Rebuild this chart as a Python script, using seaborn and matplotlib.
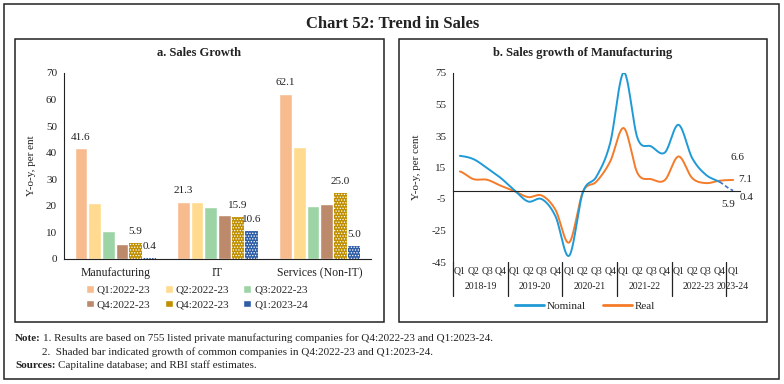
"""Chart 52: Trend in Sales — grouped bars (sales growth) + smoothed lines (manufacturing)."""
import matplotlib

matplotlib.use("Agg")
import matplotlib.pyplot as plt
import matplotlib.transforms as mtransforms
import numpy as np
import pandas as pd
import seaborn as sns
from matplotlib.lines import Line2D
from matplotlib.patches import Patch, Rectangle

# ── panel a: sales growth by sector ─────────────────────────────────────────
SECTORS = ["Manufacturing", "IT", "Services (Non-IT)"]
SERIES = ["Q1:2022-23", "Q2:2022-23", "Q3:2022-23", "Q4:2022-23",
          "Q4:2022-23 common", "Q1:2023-24 common"]
LEGEND_LABELS = ["Q1:2022-23", "Q2:2022-23", "Q3:2022-23",
                 "Q4:2022-23", "Q4:2022-23", "Q1:2023-24"]
Q1_2223 = [41.6, 21.3, 62.1]
Q2_2223 = [21.0, 21.5, 42.0]
Q3_2223 = [10.6, 19.7, 20.1]
Q4_2223 = [5.6, 16.4, 20.8]
Q4_2223_COMMON = [5.9, 15.9, 25.0]
Q1_2324_COMMON = [0.4, 10.6, 5.0]
LABELLED = [0, 4, 5]  # series that carry value labels

# ── panel b: manufacturing sales growth, quarterly ──────────────────────────
QUARTERS = ["Q1", "Q2", "Q3", "Q4"] * 5 + ["Q1"]
YEARS = ["2018-19", "2019-20", "2020-21", "2021-22", "2022-23", "2023-24"]
NOMINAL = [22.4, 20.3, 14.6, 8.3, 0.5, -6.6, -5.1, -16.0, -41.0, -0.8, 9.3,
           30.5, 75.3, 33.6, 28.4, 24.5, 42.1, 21.0, 10.4, 5.9, 0.4]
REAL = [12.5, 7.6, 7.2, 3.4, 0.0, -3.8, -2.8, -11.9, -32.6, -0.6, 6.1,
        18.8, 40.0, 11.4, 7.6, 7.0, 22.0, 8.3, 5.1, 6.6, 7.1]

BAR_COLORS = ["#F8BB8E", "#FFDA8F", "#9DD4A6", "#BC8A6B", "#BF8F00", "#2F5EA8"]
C_NOM, C_REAL, C_NOM_DASH = "#1F9AD6", "#F47B29", "#4472C4"

W, H = 784, 384


def fx(px):
    return px / W


def fy(py):
    return 1 - py / H


def smooth(y, n=24):
    """Excel-style smoothed line (cubic Bezier through the points)."""
    y = np.asarray(y, float)
    p = np.concatenate([[y[0]], y, [y[-1]]])
    xs, ys = [], []
    t = np.linspace(0, 1, n, endpoint=False)
    for i in range(len(y) - 1):
        p0, p1, p2, p3 = p[i], p[i + 1], p[i + 2], p[i + 3]
        c1 = p1 + (p2 - p0) / 6
        c2 = p2 - (p3 - p1) / 6
        seg = (1 - t) ** 3 * p1 + 3 * (1 - t) ** 2 * t * c1 + 3 * (1 - t) * t ** 2 * c2 + t ** 3 * p2
        xs.append(i + t)
        ys.append(seg)
    xs.append([len(y) - 1])
    ys.append([y[-1]])
    return np.concatenate(xs), np.concatenate(ys)


sns.set_theme(style="white")
plt.rcParams["font.family"] = ["Liberation Serif", "DejaVu Serif"]
plt.rcParams["hatch.linewidth"] = 0.6
plt.rcParams["axes.unicode_minus"] = False

fig = plt.figure(figsize=(W / 100, H / 100), dpi=100)
FS = 8
INK = "#222222"

# frames
fig.add_artist(Rectangle((fx(4), fy(379)), fx(775), 375 / H, transform=fig.transFigure,
                         fill=False, lw=1.1, ec=INK))
for x0, x1 in [(15, 384), (399, 767)]:
    fig.add_artist(Rectangle((fx(x0), fy(322)), fx(x1 - x0), 283 / H, transform=fig.transFigure,
                             fill=False, lw=1.1, ec=INK))
fig.text(fx(393), fy(24), "Chart 52: Trend in Sales", ha="center", va="center",
         fontsize=12, fontweight="bold", color=INK)

# ── panel a ─────────────────────────────────────────────────────────────────
ax = fig.add_axes([fx(64), fy(259), fx(307), 186 / H])
values = [Q1_2223, Q2_2223, Q3_2223, Q4_2223, Q4_2223_COMMON, Q1_2324_COMMON]
df = pd.DataFrame({
    "sector": np.tile(SECTORS, len(SERIES)),
    "series": np.repeat(SERIES, len(SECTORS)),
    "growth": np.concatenate(values),
})
sns.barplot(df, x="sector", y="growth", hue="series", order=SECTORS, hue_order=SERIES,
            palette=dict(zip(SERIES, BAR_COLORS)), saturation=1, width=0.8, gap=0.08,
            errorbar=None, legend=False, ax=ax)
for i in (4, 5):
    for bar in ax.containers[i]:
        bar.set_hatch("......")
        bar.set_edgecolor("white")
        bar.set_linewidth(0)
for i in LABELLED:
    ax.bar_label(ax.containers[i], fmt="%.1f", padding=5, fontsize=FS, color=INK)

ax.set_ylim(0, 70)
ax.set_yticks(range(0, 71, 10))
ax.set_xlim(-0.5, 2.5)
ax.set_xticks([-0.5, 0.5, 1.5, 2.5], minor=True)
ax.tick_params(axis="x", which="major", length=0, pad=6, labelsize=8.5, labelcolor=INK)
ax.tick_params(axis="x", which="minor", length=3, width=0.8, direction="out", color=INK)
ax.tick_params(axis="y", length=3, width=0.8, direction="out", labelsize=FS, pad=2,
               color=INK, labelcolor=INK)
ax.set_xlabel("")
ax.set_ylabel("Y-o-y, per ent", fontsize=FS, color=INK)
ax.yaxis.set_label_coords(-0.09, 0.5)
sns.despine(ax=ax)
for s in ("left", "bottom"):
    ax.spines[s].set_color(INK)
    ax.spines[s].set_linewidth(0.8)
fig.text(fx(199), fy(53), "a. Sales Growth", ha="center", va="center", fontsize=9,
         fontweight="bold", color=INK)
# fig.legend fills column-wise: reorder so rows read Q1 Q2 Q3 / Q4 Q4 Q1
order = [0, 3, 1, 4, 2, 5]
fig.legend(handles=[Patch(facecolor=BAR_COLORS[i]) for i in order],
           labels=[LEGEND_LABELS[i] for i in order], ncol=3,
           loc="center", bbox_to_anchor=(fx(197), fy(297)), frameon=False, fontsize=FS,
           handlelength=0.7, handleheight=0.7, handletextpad=0.25, columnspacing=1.3,
           labelspacing=0.45, borderpad=0)

# ── panel b ─────────────────────────────────────────────────────────────────
bx = fig.add_axes([fx(453), fy(262), fx(287), 189 / H])
xs, ys = smooth(REAL)
bx.plot(xs, ys, color=C_REAL, lw=1.4, solid_capstyle="round")
xs, ys = smooth(NOMINAL)
last = len(NOMINAL) - 2
bx.plot(xs[xs <= last], ys[xs <= last], color=C_NOM, lw=1.4, solid_capstyle="round")
bx.plot(xs[xs >= last], ys[xs >= last], color=C_NOM_DASH, lw=1.2, ls=(0, (2.5, 1.5)))

n = len(NOMINAL)
bx.set_xlim(-0.5, n - 0.5)
bx.set_ylim(-45, 75)
bx.set_yticks(range(-45, 76, 20))
bx.set_xticks(np.arange(-0.5, n, 1.0))
bx.set_xticklabels([])
bx.spines["bottom"].set_position(("data", 0))
bx.tick_params(axis="x", length=2, width=0.6, direction="out", color="#555555")
bx.tick_params(axis="y", length=3, width=0.8, direction="out", labelsize=FS, pad=2,
               color=INK, labelcolor=INK)
sns.despine(ax=bx)
for s in ("left", "bottom"):
    bx.spines[s].set_color(INK)
    bx.spines[s].set_linewidth(0.8)
bx.set_ylabel("Y-o-y, per cent", fontsize=FS, color=INK)
bx.yaxis.set_label_coords(-0.11, 0.5)

trans = mtransforms.blended_transform_factory(bx.transData, bx.transAxes)
for i, q in enumerate(QUARTERS):
    bx.text(i, -0.05, q, transform=trans, ha="center", va="center", fontsize=7,
            color=INK)
for k, yr in enumerate(YEARS):
    centre = 4 * k + 1.5 if k < len(YEARS) - 1 else 4 * k
    bx.text(centre, -0.132, yr, transform=trans, ha="center", va="center", fontsize=7,
            color=INK)
for k in range(len(YEARS)):
    bx.plot([4 * k - 0.5] * 2, [0, -0.18], transform=trans, color=INK, lw=0.9,
            clip_on=False)

ann = dict(textcoords="offset points", ha="center", va="center", fontsize=FS, color=INK)
bx.annotate(f"{REAL[-2]:.1f}", (n - 2, REAL[-2]), xytext=(13, 17), **ann)
bx.annotate(f"{REAL[-1]:.1f}", (n - 1, REAL[-1]), xytext=(9, 0), **ann)
bx.annotate(f"{NOMINAL[-2]:.1f}", (n - 2, NOMINAL[-2]), xytext=(6, -16), **ann)
bx.annotate(f"{NOMINAL[-1]:.1f}", (n - 1, NOMINAL[-1]), xytext=(10, -5), **ann)

fig.text(fx(583), fy(53), "b. Sales growth of Manufacturing", ha="center", va="center",
         fontsize=9, fontweight="bold", color=INK)
fig.legend(handles=[Line2D([], [], color=C_NOM, lw=2), Line2D([], [], color=C_REAL, lw=2)],
           labels=["Nominal", "Real"], ncol=2, loc="center", bbox_to_anchor=(fx(585), fy(306)),
           frameon=False, fontsize=FS, handlelength=2.6, handletextpad=0.2, columnspacing=1.6,
           borderpad=0)

# ── notes ───────────────────────────────────────────────────────────────────
fig.canvas.draw()
renderer = fig.canvas.get_renderer()
NFS = 8


def note(x, y, bold, rest):
    t = fig.text(fx(x), fy(y), bold, fontsize=NFS, fontweight="bold", va="baseline",
                 color=INK)
    x_end = t.get_window_extent(renderer).x1
    fig.text(x_end / W + fx(2), fy(y), rest, fontsize=NFS, va="baseline", color=INK)


note(15, 341, "Note:", "1. Results are based on 755 listed private manufacturing companies "
     "for Q4:2022-23 and Q1:2023-24.")
fig.text(fx(42), fy(355), "2.  Shaded bar indicated growth of common companies in "
         "Q4:2022-23 and Q1:2023-24.", fontsize=NFS, va="baseline", color=INK)
note(15, 368, "Sources:", "Capitaline database; and RBI staff estimates.")

fig.savefig("out.png", dpi=100)
